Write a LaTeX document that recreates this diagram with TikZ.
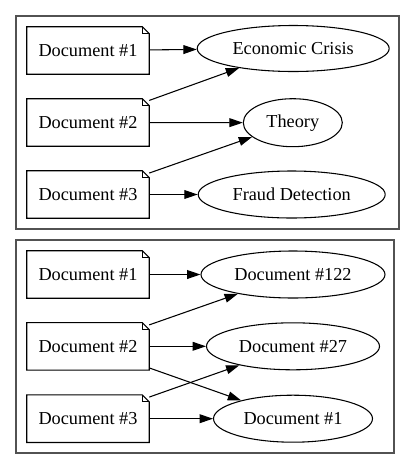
\documentclass[tikz,border=0pt]{standalone}
\usepackage{fontspec}
\setmainfont{Liberation Serif}
\usetikzlibrary{shapes.geometric,arrows.meta}
\tikzset{
  docnode/.style={rectangle, draw=none, minimum width=122*0.75pt, minimum height=47*0.75pt, inner sep=0pt, font=\fontsize{13.7}{16}\selectfont},
  topic/.style={ellipse, draw, line width=0.8pt, inner sep=0pt, minimum height=47*0.75pt, font=\fontsize{13.7}{16}\selectfont},
  cluster/.style={draw=black!68, line width=1.5pt},
  edge/.style={draw, line width=0.8pt, -{Triangle[length=10pt, width=6.6pt]}},
  noteline/.style={draw, line width=0.8pt, line join=miter}
}
\begin{document}
\begin{tikzpicture}[x=0.75pt,y=-0.75pt]
\useasboundingbox (0,0) rectangle (415,469);
% clusters
\draw[cluster] (16,16) rectangle (399,229);
\draw[cluster] (16,240) rectangle (394,453);
% top cluster documents
\node[docnode] (a1) at (88,50.5) {Document \#1};
\node[docnode] (a2) at (88,122.5) {Document \#2};
\node[docnode] (a3) at (88,194.5) {Document \#3};
% top cluster topics
\node[topic, minimum width=192*0.75pt, minimum height=46*0.75pt] (econ) at (293.2,48.5) {Economic Crisis};
\node[topic, minimum width=99*0.75pt, minimum height=48*0.75pt] (theory) at (292.8,122.7) {Theory};
\node[topic, minimum width=187*0.75pt] (fraud) at (291.7,194.5) {Fraud Detection};
% bottom cluster documents
\node[docnode] (b1) at (88,274.5) {Document \#1};
\node[docnode] (b2) at (88,346.3) {Document \#2};
\node[docnode] (b3) at (88,418.7) {Document \#3};
% bottom cluster related documents
\node[topic, minimum width=184*0.75pt] (r122) at (293,274.5) {Document \#122};
\node[topic, minimum width=173*0.75pt] (r27) at (293,346.3) {Document \#27};
\node[topic, minimum width=159*0.75pt] (r1) at (293,418.7) {Document \#1};
% note outlines
\foreach \n in {a1,a2,a3,b1,b2,b3}{
  \draw[noteline] (\n.south west) -- (\n.south east) -- ([yshift=-7*0.75pt]\n.north east)
    -- ([xshift=-7*0.75pt]\n.north east) -- (\n.north west) -- cycle;
  \draw[noteline] ([xshift=-7*0.75pt]\n.north east) -- ([xshift=-7*0.75pt,yshift=-7*0.75pt]\n.north east)
    -- ([yshift=-7*0.75pt]\n.north east);
}
% edges top
\draw[edge] (a1) -- (econ);
\draw[edge] (a2) -- (econ);
\draw[edge] (a2) -- (theory);
\draw[edge] (a3) -- (theory);
\draw[edge] (a3) -- (fraud);
% edges bottom
\draw[edge] (b1) -- (r122);
\draw[edge] (b2) -- (r122);
\draw[edge] (b2) -- (r27);
\draw[edge] (b2) -- (r1);
\draw[edge] (b3) -- (r27);
\draw[edge] (b3) -- (r1);
\end{tikzpicture}
\end{document}
